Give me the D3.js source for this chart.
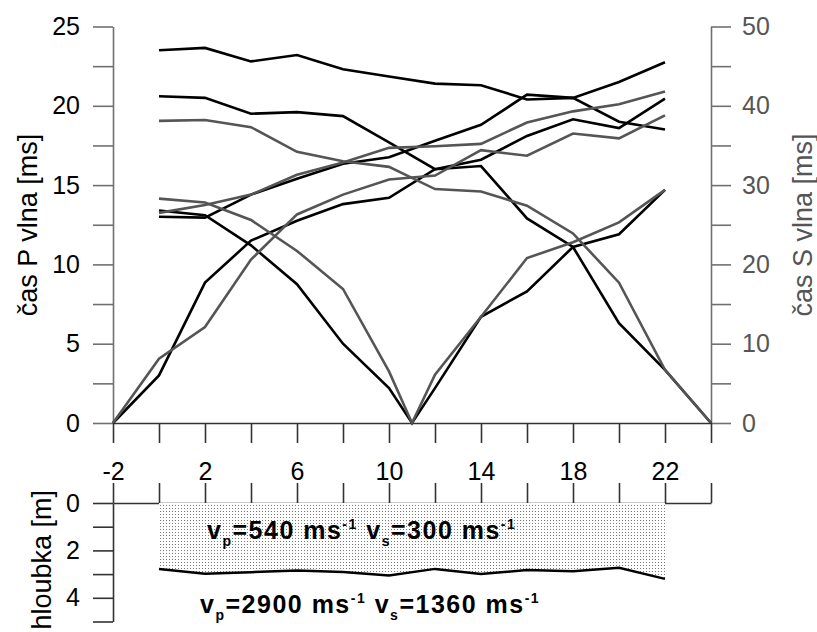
<!DOCTYPE html>
<html>
<head>
<meta charset="utf-8">
<script src="https://cdn.jsdelivr.net/npm/d3@7"></script>
<style>
  body { margin: 0; background: #fff; }
  svg { display: block; font-family: Arial, "Liberation Sans", sans-serif; }
</style>
</head>
<body>
<svg id="chart" width="817" height="632"></svg>
<script>
// positions along the profile [m]
const xStd = [0, 2, 4, 6, 8, 10, 12, 14, 16, 18, 20, 22];
const xShotM2 = [-2, 0, 2, 4, 6, 8, 10, 12, 14, 16, 18, 20, 22];
const xShot11 = [0, 2, 4, 6, 8, 10, 11, 12, 14, 16, 18, 20, 22];
const xShot24 = [0, 2, 4, 6, 8, 10, 12, 14, 16, 18, 20, 22, 24];

// P wave times [ms] (left axis)
const pFarLeft  = [13.0, 12.95, 14.4, 15.4, 16.35, 16.75, 17.8, 18.8, 20.7, 20.5, 21.5, 22.75];
const pFarRight = [23.5, 23.65, 22.8, 23.2, 22.3, 21.85, 21.4, 21.3, 20.4, 20.5, 19.0, 18.5];
const pShotM2   = [0, 3.0, 8.85, 11.5, 12.75, 13.8, 14.2, 16.0, 16.6, 18.1, 19.15, 18.6, 20.45];
const pShot11   = [13.4, 13.1, 11.2, 8.75, 5.0, 2.2, 0, 2.2, 6.7, 8.3, 11.1, 11.9, 14.7];
const pShot24   = [20.6, 20.5, 19.5, 19.6, 19.35, 17.7, 16.0, 16.2, 12.9, 11.1, 6.3, 3.35, 0];

// S wave times [ms] (right axis)
const sFarLeft = [26.5, 27.5, 28.8, 31.3, 32.85, 34.7, 34.9, 35.2, 37.9, 39.3, 40.2, 41.8];
const sShotM2  = [0, 8.1, 12.1, 20.6, 26.3, 28.8, 30.7, 31.2, 34.4, 33.7, 36.5, 35.9, 38.8];
const sShot11  = [28.3, 27.8, 25.6, 21.7, 16.9, 6.5, 0, 6.1, 13.4, 20.8, 22.8, 25.3, 29.4];
const sShot24  = [38.1, 38.2, 37.3, 34.2, 33.0, 32.3, 29.5, 29.2, 27.4, 23.9, 17.7, 6.7, 0];

// refractor depth [m]
const layerDepth = [2.78, 2.98, 2.92, 2.85, 2.91, 3.06, 2.78, 3.0, 2.83, 2.88, 2.73, 3.2];

const xTicks = d3.range(-2, 24.1, 2);
const pTicks = d3.range(0, 25.1, 2.5);
const sTicks = d3.range(0, 50.1, 5);
const depthTicks = [0, 1, 2, 3, 4, 5];

const upperLabel = [
  {t: "v"}, {t: "p", sub: true}, {t: "=540 ms"}, {t: "-1", sup: true},
  {t: " v"}, {t: "s", sub: true}, {t: "=300 ms"}, {t: "-1", sup: true}
];
const lowerLabel = [
  {t: "v"}, {t: "p", sub: true}, {t: "=2900 ms"}, {t: "-1", sup: true},
  {t: " v"}, {t: "s", sub: true}, {t: "=1360 ms"}, {t: "-1", sup: true}
];

const svg = d3.select("#chart");

const x = d3.scaleLinear().domain([-2, 24]).range([113, 711]);
const yP = d3.scaleLinear().domain([0, 25]).range([423, 26.5]);
const yS = d3.scaleLinear().domain([0, 50]).range([423, 26.5]);
const yD = d3.scaleLinear().domain([0, 5]).range([503, 621.5]);

const axisGray = "#707070";
const axisDark = "#333";

// pattern for the upper layer
const pat = svg.append("defs").append("pattern")
  .attr("id", "dots").attr("width", 3).attr("height", 3)
  .attr("patternUnits", "userSpaceOnUse");
pat.append("rect").attr("width", 3).attr("height", 3).attr("fill", "#fff");
pat.append("rect").attr("x", 1).attr("y", 1).attr("width", 1).attr("height", 1).attr("fill", "#777");

function styleAxis(g, color, textColor) {
  g.attr("font-size", 25).attr("font-family", null);
  g.selectAll("path, line").attr("stroke", color).attr("stroke-width", 1.6);
  g.selectAll("text").attr("fill", textColor);
}

// left P axis
svg.append("g").attr("transform", "translate(113,0)")
  .call(d3.axisLeft(yP).tickValues(pTicks).tickSize(20).tickSizeOuter(0).tickPadding(13)
    .tickFormat(d => d % 5 === 0 ? d : ""))
  .call(g => styleAxis(g, axisGray, "#000"));

// right S axis
svg.append("g").attr("transform", "translate(711,0)")
  .call(d3.axisRight(yS).tickValues(sTicks).tickSize(20).tickSizeOuter(0).tickPadding(11)
    .tickFormat(d => d % 10 === 0 ? d : ""))
  .call(g => styleAxis(g, axisGray, "#555"));

// x axis under the time plot
svg.append("g").attr("transform", "translate(0,423)")
  .call(d3.axisBottom(x).tickValues(xTicks).tickSize(20).tickSizeOuter(0)
    .tickFormat(d => (d + 2) % 4 === 0 ? String(d) : ""))
  .call(g => styleAxis(g, axisDark, "#000"))
  .call(g => g.selectAll("text").attr("y", 57).attr("dy", 0));

// x axis on top of the depth section
svg.append("g").attr("transform", "translate(0,503)")
  .call(d3.axisTop(x).tickValues(xTicks).tickSize(20).tickSizeOuter(0).tickFormat(""))
  .call(g => styleAxis(g, axisDark, "#000"));

// layer fill and boundary
const layer = xStd.map((v, i) => ({x: v, d: layerDepth[i]}));
svg.append("path").datum(layer)
  .attr("fill", "url(#dots)")
  .attr("d", d3.area().x(d => x(d.x)).y0(yD(0)).y1(d => yD(d.d)));
svg.append("path").datum(layer)
  .attr("fill", "none").attr("stroke", "#000").attr("stroke-width", 2.5)
  .attr("d", d3.line().x(d => x(d.x)).y(d => yD(d.d)));

// depth axis
svg.append("g").attr("transform", "translate(113,0)")
  .call(d3.axisLeft(yD).tickValues(depthTicks).tickSize(20).tickSizeOuter(0).tickPadding(13)
    .tickFormat(d => d % 2 === 0 && d < 5 ? d : ""))
  .call(g => styleAxis(g, axisDark, "#000"));

// travel time curves
const pSeries = [
  [xStd, pFarLeft], [xStd, pFarRight], [xShotM2, pShotM2], [xShot11, pShot11], [xShot24, pShot24]
];
const sSeries = [
  [xStd, sFarLeft], [xShotM2, sShotM2], [xShot11, sShot11], [xShot24, sShot24]
];

const pLine = d3.line().x(d => x(d[0])).y(d => yP(d[1]));
const sLine = d3.line().x(d => x(d[0])).y(d => yS(d[1]));

svg.append("g").selectAll("path")
  .data(pSeries.map(([xs, ys]) => xs.map((v, i) => [v, ys[i]])))
  .join("path")
  .attr("fill", "none").attr("stroke", "#000").attr("stroke-width", 2.6)
  .attr("d", pLine);

svg.append("g").selectAll("path")
  .data(sSeries.map(([xs, ys]) => xs.map((v, i) => [v, ys[i]])))
  .join("path")
  .attr("fill", "none").attr("stroke", "#555").attr("stroke-width", 2.6)
  .attr("d", sLine);

// axis titles
svg.append("text")
  .attr("transform", "translate(37,225) rotate(-90)")
  .attr("text-anchor", "middle").attr("font-size", 27).attr("fill", "#000")
  .text("čas P vlna [ms]");
svg.append("text")
  .attr("transform", "translate(812,225) rotate(-90)")
  .attr("text-anchor", "middle").attr("font-size", 27).attr("fill", "#555")
  .text("čas S vlna [ms]");
svg.append("text")
  .attr("transform", "translate(51,490) rotate(-90)")
  .attr("text-anchor", "end").attr("font-size", 27).attr("fill", "#000")
  .text("hloubka [m]");

// velocity labels
function richText(px, py, parts) {
  const t = svg.append("text").attr("x", px).attr("y", py)
    .attr("font-weight", "bold").attr("font-size", 25).attr("letter-spacing", 1.5)
    .attr("fill", "#000");
  let cur = 0;
  parts.forEach(p => {
    const off = p.sub ? 7 : p.sup ? -10 : 0;
    t.append("tspan")
      .attr("dy", off - cur)
      .attr("font-size", p.sub || p.sup ? 14 : 25)
      .text(p.t);
    cur = off;
  });
}
richText(207, 539, upperLabel);
richText(200, 613, lowerLabel);
</script>
</body>
</html>
